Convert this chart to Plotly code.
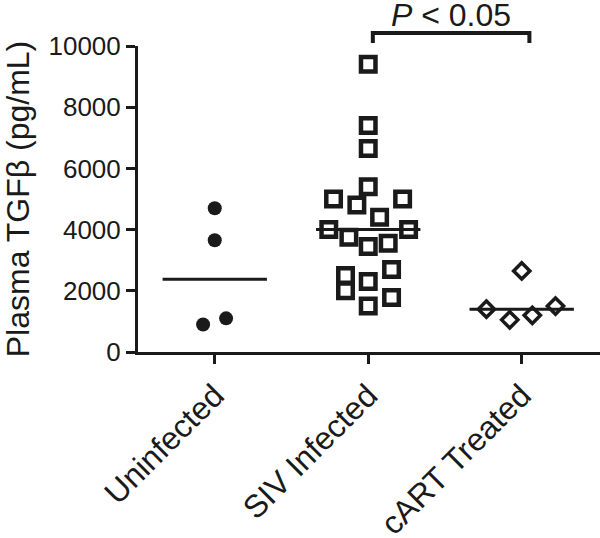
import numpy as np
import plotly.graph_objects as go

# groups on the x axis
categories = ["Uninfected", "SIV Infected", "cART Treated"]

# plasma TGF-beta, pg/mL
uninfected = [4700, 3650, 900, 1100]
siv_infected = [9400, 7400, 6650, 5400, 5000, 5000, 4800, 4400, 4000, 4000,
                3750, 3450, 3550, 2700, 2500, 2300, 2000, 1780, 1500]
cart_treated = [2650, 1400, 1050, 1200, 1500]

# horizontal scatter of the points inside each column (category units)
uninfected_jitter = [0, 0, -0.076, 0.074]
siv_jitter = [0, 0, 0, 0, -0.226, 0.224, -0.074, 0.074, -0.257, 0.263,
              -0.126, 0, 0.13, 0.152, -0.148, 0, -0.148, 0.152, 0]
cart_jitter = [0, -0.23, -0.078, 0.069, 0.22]

y_ticks = [0, 2000, 4000, 6000, 8000, 10000]
p_label = "<i>P</i> &lt; 0.05"

ink = "#1a1a1a"
font = "Arial, Liberation Sans, sans-serif"

groups = [
    (uninfected, uninfected_jitter, dict(symbol="circle", size=14, color=ink, line=dict(width=0))),
    (siv_infected, siv_jitter, dict(symbol="square-open", size=14.5, color=ink, line=dict(width=4.5))),
    (cart_treated, cart_jitter, dict(symbol="diamond-open", size=12.5, color=ink, line=dict(width=3.5))),
]

fig = go.Figure()
for i, (vals, jit, mk) in enumerate(groups):
    med = float(np.median(vals))
    # median line
    fig.add_trace(go.Scatter(x=[i - 0.34, i + 0.34], y=[med, med], mode="lines",
                             line=dict(color=ink, width=3), hoverinfo="skip"))
    fig.add_trace(go.Scatter(x=[i + d for d in jit], y=vals, mode="markers",
                             marker=mk, name=categories[i]))

x_min, x_max = -0.5, 2.51

def to_paper(c):
    return (c - x_min) / (x_max - x_min)

# significance bracket between SIV Infected and cART Treated
bx0, bx1 = to_paper(1.03), to_paper(2.05)
by_top, by_bot = 1.0425, 1.0098
fig.add_shape(type="path", xref="paper", yref="paper",
              path=f"M {bx0} {by_bot} L {bx0} {by_top} L {bx1} {by_top} L {bx1} {by_bot}",
              line=dict(color=ink, width=4))
fig.add_annotation(x=(bx0 + bx1) / 2, y=1.10, xref="paper", yref="paper",
                   text=p_label, showarrow=False, xanchor="center", yanchor="middle",
                   font=dict(size=32, color=ink, family=font))

fig.update_layout(
    width=600, height=538,
    margin=dict(l=138, r=0, t=46, b=186),
    paper_bgcolor="white", plot_bgcolor="white",
    showlegend=False,
    font=dict(family=font, color=ink),
    xaxis=dict(range=[x_min, x_max], tickvals=[0, 1, 2], ticktext=categories,
               tickangle=-45, ticks="outside", ticklen=9, tickwidth=3, tickcolor=ink,
               showline=True, linewidth=3, linecolor=ink, showgrid=False, zeroline=False,
               automargin=False,
               tickfont=dict(size=32, family=font, color=ink)),
    yaxis=dict(range=[0, 10000], tickvals=y_ticks, ticktext=[str(v) for v in y_ticks],
               ticks="outside", ticklen=9,
               tickwidth=3, tickcolor=ink, showline=True, linewidth=3, linecolor=ink,
               showgrid=False, zeroline=False, automargin=False,
               tickfont=dict(size=26, family=font, color=ink),
               title=dict(text="Plasma TGFβ (pg/mL)", standoff=17,
                          font=dict(size=32, family=font, color=ink))),
)

# drop the default page margin so the 600x538 figure fills the window
fig.write_html("out.html", config={"displayModeBar": False},
               post_script="document.body.style.margin='0';")
